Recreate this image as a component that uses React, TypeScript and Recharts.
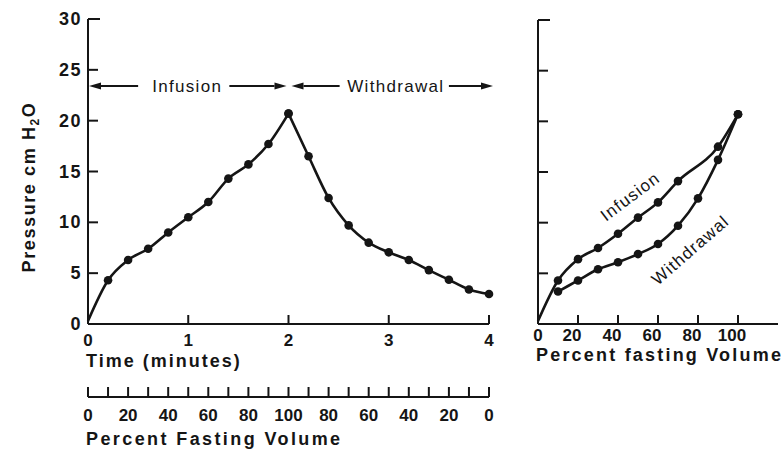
import React from 'react';
import { LineChart, Line, XAxis, YAxis, ReferenceLine, ReferenceDot } from 'recharts';

const INK = '#151515';
const FONT = '"Liberation Sans", Arial, Helvetica, sans-serif';

// left panel: pressure over time
const infusionTime = [0, 0.2, 0.4, 0.6, 0.8, 1.0, 1.2, 1.4, 1.6, 1.8, 2.0];
const infusionPressure = [0.3, 4.3, 6.3, 7.4, 9.0, 10.5, 12.0, 14.3, 15.7, 17.7, 20.7];
const withdrawalTime = [2.0, 2.2, 2.4, 2.6, 2.8, 3.0, 3.2, 3.4, 3.6, 3.8, 4.0];
const withdrawalPressure = [20.7, 16.5, 12.4, 9.7, 8.0, 7.05, 6.3, 5.3, 4.35, 3.4, 2.95];

// right panel: pressure over percent fasting volume
const infusionVolume = [0, 10, 20, 30, 40, 50, 60, 70, 90, 100];
const infusionVolPressure = [0.3, 4.3, 6.4, 7.5, 8.9, 10.5, 12.0, 14.1, 17.5, 20.7];
const withdrawalVolume = [10, 20, 30, 40, 50, 60, 70, 80, 90, 100];
const withdrawalVolPressure = [3.2, 4.3, 5.4, 6.1, 6.9, 7.9, 9.7, 12.4, 16.2, 20.7];

const pressureTicks = [0, 5, 10, 15, 20, 25, 30];
const timeTicks = [0, 1, 2, 3, 4];
const volumeTicks = [0, 20, 40, 60, 80, 100];
// second scale under the time axis (one mark every 10 %)
const pctTickTimes = [0, 0.2, 0.4, 0.6, 0.8, 1.0, 1.2, 1.4, 1.6, 1.8, 2.0, 2.2, 2.4, 2.6, 2.8, 3.0, 3.2, 3.4, 3.6, 3.8, 4.0];
const pctTickLabels = ['0', '20', '40', '60', '80', '100', '80', '60', '40', '20', '0'];

const phaseArrows = [
  { from: 0.5, to: 0.01 },
  { from: 1.41, to: 1.98 },
  { from: 2.51, to: 2.03 },
  { from: 3.6, to: 4.04 },
];
const phaseY = 23.4;
const phaseLabels = [
  { text: 'Infusion', x: 0.99 },
  { text: 'Withdrawal', x: 3.07 },
];
const curveLabels = [
  { text: 'Infusion', x: 46, y: 12.6, angle: -37 },
  { text: 'Withdrawal', x: 76, y: 7.3, angle: -41 },
];

type Row = { x: number; y: number };
const toRows = (xs: number[], ys: number[]): Row[] => xs.map((x, i) => ({ x, y: ys[i] }));

const leftInfusion = toRows(infusionTime, infusionPressure);
const leftWithdrawal = toRows(withdrawalTime, withdrawalPressure);
const rightInfusion = toRows(infusionVolume, infusionVolPressure);
const rightWithdrawal = toRows(withdrawalVolume, withdrawalVolPressure);

const renderDot = (p: any) => {
  const key = `dot-${p.index}`;
  if (p.payload.x === 0) return <g key={key} />;
  return <circle key={key} cx={p.cx} cy={p.cy} r={4.3} fill={INK} />;
};

const axisLine = { stroke: INK, strokeWidth: 2 };

const PressureTick = (p: any) => {
  const v = p.payload.value;
  return (
    <g>
      {v > 0 && (
        <line x1={p.x} x2={p.x + (v === 30 ? 12 : 10)} y1={p.y} y2={p.y} stroke={INK} strokeWidth={2} />
      )}
      {p.labelled && (
        <text x={p.x - 6} y={p.y + 6} textAnchor="end" fontFamily={FONT} fontWeight={700} fontSize={18} letterSpacing={1.5} fill={INK}>
          {v}
        </text>
      )}
    </g>
  );
};

const BottomTick = (p: any) => {
  const v = p.payload.value;
  return (
    <g>
      {v > 0 && <line x1={p.x} x2={p.x} y1={p.y - p.len} y2={p.y} stroke={INK} strokeWidth={2} />}
      {p.label != null && (
        <text x={p.x + (p.dx || 0)} y={p.y + p.dy} textAnchor="middle" fontFamily={FONT} fontWeight={700} fontSize={p.size} fill={INK}>
          {p.label}
        </text>
      )}
    </g>
  );
};

const PctTick = (p: any) => (
  <g>
    <line x1={p.x} x2={p.x} y1={p.y - 10} y2={p.y} stroke={INK} strokeWidth={2} />
    {p.index % 2 === 0 && (
      <text x={p.x} y={p.y + 24} textAnchor="middle" fontFamily={FONT} fontWeight={700} fontSize={17} fill={INK}>
        {pctTickLabels[p.index / 2]}
      </text>
    )}
  </g>
);

const Arrow = (p: any) => {
  const { x1, y1, x2 } = p;
  const lo = Math.min(x1, x2);
  const hi = Math.max(x1, x2);
  const pointsLeft = p.headLeft;
  const tip = pointsLeft ? lo : hi;
  const dir = pointsLeft ? -1 : 1;
  const back = tip - dir * 12;
  return (
    <g>
      <line x1={pointsLeft ? back : lo} x2={pointsLeft ? hi : back} y1={y1} y2={y1} stroke={INK} strokeWidth={2} />
      <polygon points={`${tip},${y1} ${back},${y1 - 3.5} ${back},${y1 + 3.5}`} fill={INK} />
    </g>
  );
};

const axisTitle = (text: string, dy: number, spacing: number) => (props: any) => {
  const vb = props.viewBox;
  return (
    <text x={vb.x - 2} y={vb.y + dy} fontFamily={FONT} fontWeight={700} fontSize={18} letterSpacing={spacing} fill={INK}>
      {text}
    </text>
  );
};

const pressureTitle = (props: any) => {
  const vb = props.viewBox;
  const x = vb.x + 7;
  const y = 187;
  return (
    <text x={x} y={y} transform={`rotate(-90, ${x}, ${y})`} textAnchor="middle" fontFamily={FONT} fontWeight={700} fontSize={18} letterSpacing={1.6} fill={INK}>
      Pressure cm H<tspan fontSize={12} dy={4}>2</tspan>
      <tspan dy={-4}>O</tspan>
    </text>
  );
};

export default function App() {
  return (
    <div style={{ position: 'absolute', left: 0, top: 0, width: 784, height: 450, background: '#fff' }}>
      <div style={{ position: 'absolute', left: 0, top: 0 }}>
        <LineChart width={510} height={450} margin={{ top: 19, right: 21, bottom: 0, left: 28 }}>
          <XAxis
            dataKey="x"
            type="number"
            domain={[0, 4]}
            ticks={timeTicks}
            interval={0}
            height={73}
            axisLine={axisLine}
            tickLine={false}
            tickSize={0}
            tickMargin={0}
            tick={(p: any) => <BottomTick {...p} len={9} dy={22} size={17} label={p.payload.value} />}
            label={{ content: axisTitle('Time (minutes)', 43, 2.0) }}
          />
          <XAxis
            xAxisId="pct"
            dataKey="x"
            type="number"
            domain={[0, 4]}
            ticks={pctTickTimes}
            interval={0}
            height={53}
            axisLine={axisLine}
            tickLine={false}
            tickSize={0}
            tickMargin={0}
            tick={(p: any) => <PctTick {...p} />}
            label={{ content: axisTitle('Percent Fasting Volume', 48, 2.4) }}
          />
          <YAxis
            type="number"
            domain={[0, 30]}
            ticks={pressureTicks}
            interval={0}
            width={60}
            axisLine={axisLine}
            tickLine={false}
            tickSize={0}
            tickMargin={0}
            tick={(p: any) => <PressureTick {...p} labelled />}
            label={{ content: pressureTitle }}
          />
          {phaseArrows.map((a, i) => (
            <ReferenceLine
              key={`arrow-${i}`}
              segment={[{ x: a.from, y: phaseY }, { x: a.to, y: phaseY }]}
              ifOverflow="visible"
              shape={(p: any) => <Arrow {...p} headLeft={a.to < a.from} />}
            />
          ))}
          {phaseLabels.map((l) => (
            <ReferenceDot
              key={l.text}
              x={l.x}
              y={phaseY}
              r={0}
              shape={(p: any) => (
                <text x={p.cx} y={p.cy} dy={6} textAnchor="middle" fontFamily={FONT} fontSize={17} letterSpacing={1.3} fill={INK}>
                  {l.text}
                </text>
              )}
            />
          ))}
          {/* same withdrawal points on the volume scale, drawn invisibly so that scale gets its domain */}
          <Line xAxisId="pct" data={leftWithdrawal} dataKey="y" stroke="none" dot={false} activeDot={false} isAnimationActive={false} />
          <Line data={leftInfusion} dataKey="y" type="monotone" stroke={INK} strokeWidth={2.6} dot={renderDot} activeDot={false} isAnimationActive={false} />
          <Line data={leftWithdrawal} dataKey="y" type="monotone" stroke={INK} strokeWidth={2.6} dot={renderDot} activeDot={false} isAnimationActive={false} />
        </LineChart>
      </div>
      <div style={{ position: 'absolute', left: 520, top: 0 }}>
        <LineChart width={264} height={380} margin={{ top: 20, right: 6, bottom: 0, left: 17 }}>
          <XAxis
            dataKey="x"
            type="number"
            domain={[0, 120]}
            ticks={volumeTicks}
            interval={0}
            height={56}
            axisLine={axisLine}
            tickLine={false}
            tickSize={0}
            tickMargin={0}
            tick={(p: any) => (
              <BottomTick {...p} len={9} dy={17} size={17} dx={p.payload.value > 0 ? -6 : 0} label={p.payload.value} />
            )}
            label={{ content: axisTitle('Percent fasting Volume', 37, 2.2) }}
          />
          <YAxis
            type="number"
            domain={[0, 30]}
            ticks={pressureTicks}
            interval={0}
            width={1}
            axisLine={axisLine}
            tickLine={false}
            tickSize={0}
            tickMargin={0}
            tick={(p: any) => <PressureTick {...p} />}
          />
          {curveLabels.map((l) => (
            <ReferenceDot
              key={l.text}
              x={l.x}
              y={l.y}
              r={0}
              shape={(p: any) => (
                <text
                  x={p.cx}
                  y={p.cy}
                  dy={6}
                  transform={`rotate(${l.angle}, ${p.cx}, ${p.cy})`}
                  textAnchor="middle"
                  fontFamily={FONT}
                  fontSize={17}
                  letterSpacing={1.2}
                  fill={INK}
                >
                  {l.text}
                </text>
              )}
            />
          ))}
          <Line data={rightInfusion} dataKey="y" type="monotone" stroke={INK} strokeWidth={2.6} dot={renderDot} activeDot={false} isAnimationActive={false} />
          <Line data={rightWithdrawal} dataKey="y" type="monotone" stroke={INK} strokeWidth={2.6} dot={renderDot} activeDot={false} isAnimationActive={false} />
        </LineChart>
      </div>
    </div>
  );
}
